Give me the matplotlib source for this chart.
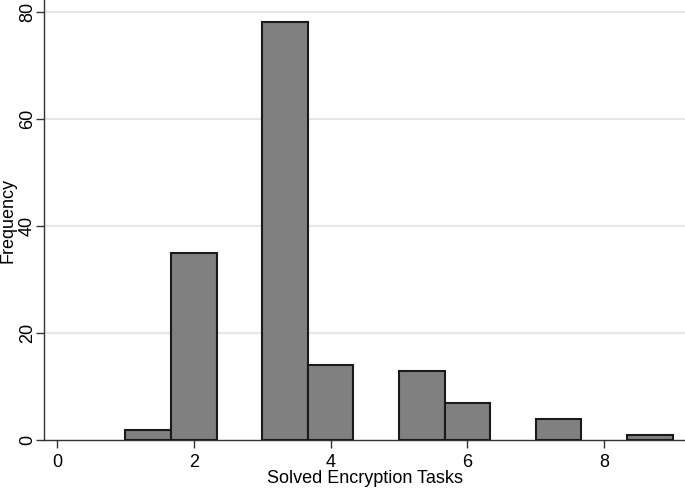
import matplotlib
matplotlib.use("Agg")
import matplotlib.pyplot as plt
import numpy as np

plt.rcParams['font.family'] = ['Liberation Sans', 'DejaVu Sans']

bin_edges = [1 + i * (8 / 12) for i in range(13)]
counts = [2, 35, 0, 78, 14, 0, 13, 7, 0, 4, 0, 1]
xticks = [0, 2, 4, 6, 8]
yticks = [0, 20, 40, 60, 80]

fig = plt.figure(figsize=(6.85, 4.91), dpi=100)
ax = fig.add_axes([44.3 / 685, (491 - 440.3) / 491, (685 - 44.3) / 685, 440.3 / 491])

lefts = np.array(bin_edges[:-1])
widths = np.diff(bin_edges)
for l, w, c in zip(lefts, widths, counts):
    if c > 0:
        ax.bar(l, c, width=w, align='edge', color='#808080', edgecolor='#1a1a1a', linewidth=1.5, zorder=3)

ax.set_xlim(-0.186, 9.18)
ax.set_ylim(0, 82.2)
ax.set_xticks(xticks)
ax.set_yticks(yticks)
ax.set_yticklabels([str(v) for v in yticks], rotation=90, va='center')
for v in yticks[1:]:
    ax.axhline(v, color='#e6e6e6', linewidth=1.5, zorder=1)

for s in ['top', 'right']:
    ax.spines[s].set_visible(False)
for s in ['left', 'bottom']:
    ax.spines[s].set_color('#333333')
    ax.spines[s].set_linewidth(1.0)
ax.tick_params(axis='both', direction='out', length=6, width=1.0, color='#333333', labelsize=13, labelcolor='black')
ax.tick_params(axis='x', pad=4)
ax.tick_params(axis='y', pad=0)
ax.set_xlabel('Solved Encryption Tasks', fontsize=13, labelpad=-1)
ax.set_ylabel('Frequency', fontsize=13)
ax.yaxis.set_label_coords((17 - 44.3) / 640.7, 0.5)

fig.savefig('out.png', dpi=100)
